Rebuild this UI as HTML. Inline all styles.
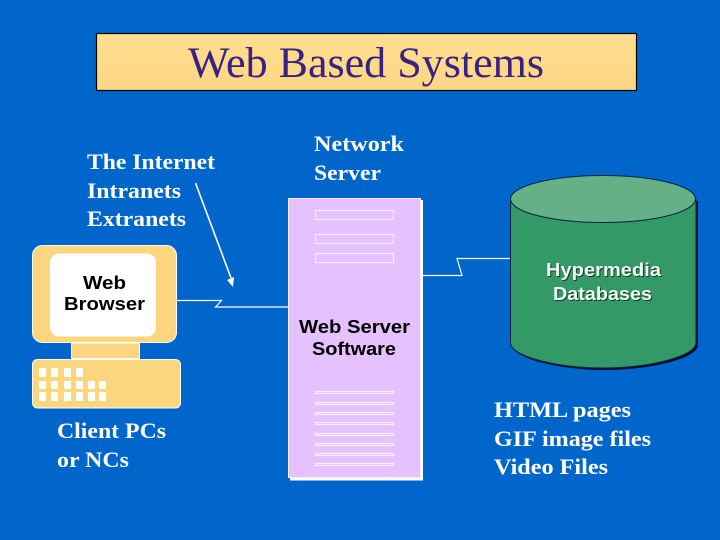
<!DOCTYPE html>
<html><head><meta charset="utf-8"><style>
html,body{margin:0;padding:0;background:#0066cc}
svg{display:block}
.s{font-family:"Liberation Serif",serif;font-size:22.5px;font-weight:bold;fill:#fff}
.a{font-family:"Liberation Sans",sans-serif;font-size:18.5px;font-weight:bold;fill:#000;text-anchor:middle}
.h{font-family:"Liberation Sans",sans-serif;font-size:18.5px;font-weight:bold;fill:#f2f7f2;text-anchor:middle}
.d{fill:#123a2a}
</style></head><body>
<svg width="720" height="540" viewBox="0 0 720 540" xmlns="http://www.w3.org/2000/svg">
<defs><linearGradient id="t" x1="0" y1="0" x2="0" y2="1"><stop offset="0" stop-color="#fddf8f"/><stop offset="1" stop-color="#fcd684"/></linearGradient></defs>
<rect width="720" height="540" fill="#0066cc"/>
<rect x="96.5" y="33.5" width="540" height="57" fill="url(#t)" stroke="#000" stroke-width="1.2"/>
<text x="366" y="77" text-anchor="middle" font-family="Liberation Serif, serif" font-size="43" fill="#3b2184" textLength="356" lengthAdjust="spacingAndGlyphs">Web Based Systems</text>

<text class="s" x="87" y="169" textLength="128" lengthAdjust="spacingAndGlyphs">The Internet</text>
<text class="s" x="87" y="198" textLength="94" lengthAdjust="spacingAndGlyphs">Intranets</text>
<text class="s" x="87" y="226" textLength="99" lengthAdjust="spacingAndGlyphs">Extranets</text>
<text class="s" x="314" y="151" textLength="90" lengthAdjust="spacingAndGlyphs">Network</text>
<text class="s" x="314" y="180" textLength="67" lengthAdjust="spacingAndGlyphs">Server</text>
<text class="s" x="57" y="438" textLength="109" lengthAdjust="spacingAndGlyphs">Client PCs</text>
<text class="s" x="57" y="467" textLength="72" lengthAdjust="spacingAndGlyphs">or NCs</text>
<text class="s" x="494" y="417" textLength="137" lengthAdjust="spacingAndGlyphs">HTML pages</text>
<text class="s" x="494" y="446" textLength="157" lengthAdjust="spacingAndGlyphs">GIF image files</text>
<text class="s" x="494" y="474" textLength="114" lengthAdjust="spacingAndGlyphs">Video Files</text>

<!-- connectors -->
<polyline points="176,300.5 221.5,300.5 215.5,307 288,307" fill="none" stroke="#fff" stroke-width="1.2"/>
<polyline points="423,275.5 462,275.5 457,258.5 510,258.5" fill="none" stroke="#fff" stroke-width="1.2"/>
<line x1="195.500" y1="183" x2="231" y2="278" stroke="#fff" stroke-width="1.6"/>
<polygon points="233,287 227,280 234,277" fill="#fff"/>

<!-- computer -->
<rect x="32.500" y="245.500" width="144" height="97" rx="10" fill="#fcd57f" stroke="#fff" stroke-width="1"/>
<rect x="50" y="253.500" width="106" height="83" rx="9" fill="#fff"/>
<rect x="71.500" y="343" width="68" height="15.500" fill="#fcd57f" stroke="#fff" stroke-width="1"/>
<rect x="32.500" y="359.500" width="148" height="48.500" rx="5" fill="#fcd57f" stroke="#fff" stroke-width="1"/>
<g fill="#fff">
<rect x="39" y="368" width="7" height="9"/><rect x="51" y="368" width="7" height="9"/><rect x="64" y="368" width="7" height="9"/><rect x="76" y="368" width="7" height="9"/>
<rect x="39" y="381" width="7" height="8"/><rect x="51" y="381" width="7" height="8"/><rect x="64" y="381" width="7" height="8"/><rect x="76" y="381" width="7" height="8"/><rect x="88" y="381" width="7" height="8"/><rect x="99" y="381" width="7" height="8"/>
<rect x="39" y="392" width="7" height="9"/><rect x="51" y="392" width="7" height="9"/><rect x="64" y="392" width="7" height="9"/><rect x="76" y="392" width="7" height="9"/><rect x="88" y="392" width="7" height="9"/><rect x="99" y="392" width="7" height="9"/>
</g>
<text class="a" x="104.500" y="289" textLength="43" lengthAdjust="spacingAndGlyphs">Web</text>
<text class="a" x="104.500" y="310" textLength="81" lengthAdjust="spacingAndGlyphs">Browser</text>

<!-- server -->
<rect x="290" y="200" width="133" height="280.500" fill="#fff"/>
<rect x="288.500" y="198.500" width="132" height="279" fill="#e5c2ff" stroke="#f6eeff" stroke-width="1"/>
<g fill="none" stroke="#f8efff" stroke-width="1.200">
<rect x="315.500" y="210.500" width="78" height="9"/>
<rect x="315.500" y="234.500" width="78" height="9"/>
<rect x="315.500" y="253.500" width="78" height="9"/>
<rect x="315.500" y="391.500" width="78" height="2"/>
<rect x="315.500" y="402.500" width="78" height="2"/>
<rect x="315.500" y="412.500" width="78" height="2"/>
<rect x="315.500" y="422.500" width="78" height="2"/>
<rect x="315.500" y="433.500" width="78" height="2"/>
<rect x="315.500" y="443.500" width="78" height="2"/>
<rect x="315.500" y="453.500" width="78" height="2"/>
<rect x="315.500" y="463.500" width="78" height="2"/>
</g>
<text class="a" x="354.500" y="333" textLength="111" lengthAdjust="spacingAndGlyphs">Web Server</text>
<text class="a" x="354" y="355" textLength="84" lengthAdjust="spacingAndGlyphs">Software</text>

<!-- database -->
<path d="M512,201 V345 C512,358 558,370 605,370 C652,370 698,358 698,345 V201 Z" fill="#000a30"/>
<path d="M510.500,199 V343 C510.500,356 556,368 603,368 C650,368 696,356 696,343 V199 Z" fill="#339966" stroke="#04233a" stroke-width="1"/>
<ellipse cx="603" cy="199" rx="92.500" ry="23.500" fill="#66b088" stroke="#04233a" stroke-width="1"/>
<text class="h d" x="604.500" y="277" style="fill:#123a2a" textLength="115" lengthAdjust="spacingAndGlyphs">Hypermedia</text>
<text class="h d" x="603.500" y="301" style="fill:#123a2a" textLength="99" lengthAdjust="spacingAndGlyphs">Databases</text>
<text class="h" x="603.500" y="276" textLength="115" lengthAdjust="spacingAndGlyphs">Hypermedia</text>
<text class="h" x="602.500" y="300" textLength="99" lengthAdjust="spacingAndGlyphs">Databases</text>
</svg>
</body></html>
